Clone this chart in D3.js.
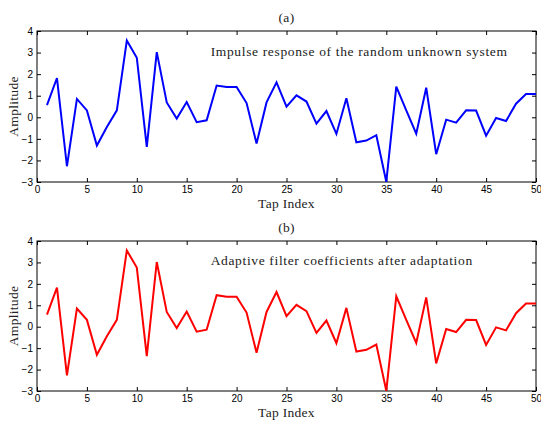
<!DOCTYPE html>
<html>
<head>
<meta charset="utf-8">
<script src="https://cdn.jsdelivr.net/npm/d3@7"></script>
<style>
  body { margin: 0; background: #fff; }
  .tick text { font-family: "Liberation Sans", Arial, sans-serif; font-size: 10px; fill: #000; }
  .lbl { font-family: "Liberation Serif", "DejaVu Serif", serif; font-size: 13.5px; fill: #222; letter-spacing: 0.3px; }
  .note { letter-spacing: 0.65px; }
</style>
</head>
<body>
<div id="chart"></div>
<script>
// tap index 1..50
var taps = d3.range(1, 51);

// impulse response of the unknown system
var trueCoeffs = [0.56, 1.82, -2.27, 0.85, 0.32, -1.31, -0.45, 0.32, 3.56, 2.76,
  -1.37, 3.02, 0.69, -0.06, 0.71, -0.23, -0.14, 1.47, 1.40, 1.40,
  0.66, -1.22, 0.69, 1.62, 0.49, 1.02, 0.73, -0.29, 0.29, -0.77,
  0.88, -1.16, -1.08, -0.83, -2.99, 1.42, 0.32, -0.76, 1.37, -1.71,
  -0.11, -0.25, 0.32, 0.31, -0.85, -0.03, -0.17, 0.63, 1.08, 1.08];

// adaptive filter weights after convergence
var estCoeffs = [0.56, 1.82, -2.27, 0.85, 0.32, -1.31, -0.45, 0.32, 3.56, 2.76,
  -1.37, 3.02, 0.69, -0.06, 0.71, -0.23, -0.14, 1.47, 1.40, 1.40,
  0.66, -1.22, 0.69, 1.62, 0.49, 1.02, 0.73, -0.29, 0.29, -0.77,
  0.88, -1.16, -1.08, -0.83, -2.99, 1.42, 0.32, -0.76, 1.37, -1.71,
  -0.11, -0.25, 0.32, 0.31, -0.85, -0.03, -0.17, 0.63, 1.08, 1.08];

var xTicks = [0, 5, 10, 15, 20, 25, 30, 35, 40, 45, 50];
var yTicks = [-3, -2, -1, 0, 1, 2, 3, 4];

var width = 541, height = 421;

var svg = d3.select("#chart").append("svg")
    .attr("width", width)
    .attr("height", height);

var x = d3.scaleLinear().domain([0, 50]).range([37, 536]);

function panel(top, bottom, values, colour, tag, note) {
  var y = d3.scaleLinear().domain([-3, 4]).range([bottom, top]);
  var g = svg.append("g");

  // frame
  g.append("rect")
    .attr("x", x(0)).attr("y", top)
    .attr("width", x(50) - x(0)).attr("height", bottom - top)
    .attr("fill", "none").attr("stroke", "#000").attr("stroke-width", 1);

  // inward ticks on all sides
  g.append("g").attr("transform", `translate(0,${bottom})`)
    .call(d3.axisBottom(x).tickValues(xTicks).tickSize(-4).tickPadding(4).tickFormat(d3.format("d")))
    .call(a => a.select(".domain").remove());
  g.append("g").attr("transform", `translate(0,${top})`)
    .call(d3.axisTop(x).tickValues(xTicks).tickSize(-4).tickFormat(""))
    .call(a => a.select(".domain").remove());
  g.append("g").attr("transform", `translate(${x(0)},0)`)
    .call(d3.axisLeft(y).tickValues(yTicks).tickSize(-4).tickPadding(4).tickFormat(d3.format("d")))
    .call(a => a.select(".domain").remove());
  g.append("g").attr("transform", `translate(${x(50)},0)`)
    .call(d3.axisRight(y).tickValues(yTicks).tickSize(-4).tickFormat(""))
    .call(a => a.select(".domain").remove());

  g.selectAll(".tick line").attr("stroke", "#000");

  var line = d3.line()
    .x((d, i) => x(taps[i]))
    .y(d => y(d));

  g.append("path")
    .datum(values)
    .attr("fill", "none")
    .attr("stroke", colour)
    .attr("stroke-width", 2)
    .attr("stroke-linejoin", "miter")
    .attr("d", line);

  g.append("text").attr("class", "lbl")
    .attr("x", x(25)).attr("y", top - 9)
    .attr("text-anchor", "middle").text(tag);

  g.append("text").attr("class", "lbl note")
    .attr("x", x(17.4)).attr("y", y(3) + 3)
    .text(note);

  g.append("text").attr("class", "lbl")
    .attr("x", x(25)).attr("y", bottom + 26)
    .attr("text-anchor", "middle").text("Tap Index");

  g.append("text").attr("class", "lbl")
    .attr("transform", `translate(18,${(top + bottom) / 2}) rotate(-90)`)
    .attr("text-anchor", "middle").text("Amplitude");
}

panel(31, 182, trueCoeffs, "#0000ff", "(a)", "Impulse response of the random unknown system");
panel(241, 391, estCoeffs, "#ff0000", "(b)", "Adaptive filter coefficients after adaptation");
</script>
</body>
</html>
